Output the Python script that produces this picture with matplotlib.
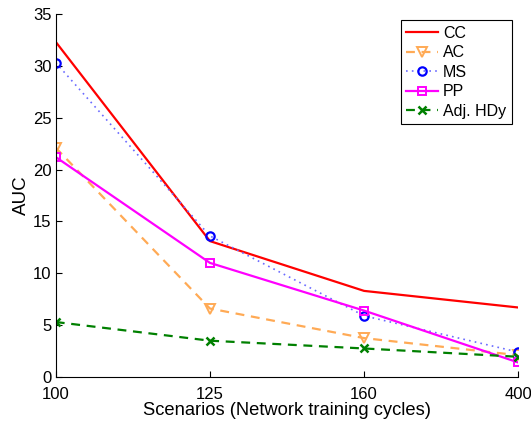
import matplotlib
matplotlib.use("Agg")
import matplotlib.pyplot as plt

plt.rcParams['font.family'] = ['Liberation Sans', 'DejaVu Sans']

scenarios = ["100", "125", "160", "400"]
cc = [32.3, 13.1, 8.3, 6.7]
ac = [22.1, 6.6, 3.75, 2.1]
ms = [30.3, 13.6, 5.9, 2.4]
pp = [21.2, 11.0, 6.4, 1.4]
hdy = [5.3, 3.5, 2.75, 1.95]

x = list(range(len(scenarios)))

fig = plt.figure(figsize=(5.31, 4.21), dpi=100)
ax = fig.add_axes([0.105, 0.1045, 0.871, 0.8625])

ax.plot(x, cc, color="red", lw=1.6, label="CC")
ax.plot(x, ac, color="#ffaa55", lw=1.6, ls=(0, (4, 3)), marker="v", ms=7,
        mfc="none", mew=1.4, label="AC")
ax.plot(x, ms, color="#6a6aff", lw=1.2, ls=(0, (1, 2.5)), marker="o", ms=6,
        mfc="none", mec="blue", mew=1.6, label="MS")
ax.plot(x, pp, color="magenta", lw=1.6, marker="s", ms=5.5, mfc="none",
        mew=1.4, label="PP")
ax.plot(x, hdy, color="green", lw=1.6, ls=(0, (4, 3)), marker="x", ms=6,
        mew=1.8, label="Adj. HDy")

ax.set_xlim(0, 3)
ax.set_ylim(0, 35)
ax.set_xticks(x)
ax.set_xticklabels(scenarios)
ax.set_yticks(range(0, 36, 5))
ax.tick_params(direction="in", labelsize=12, length=4)
ax.tick_params(axis="x", pad=7)
ax.tick_params(axis="y", pad=3)
ax.spines["top"].set_visible(False)
ax.spines["right"].set_visible(False)
ax.set_xlabel("Scenarios (Network training cycles)", fontsize=13.2, labelpad=0)
ax.set_ylabel("AUC", fontsize=13.5, labelpad=2)

leg = ax.legend(loc="upper right", fontsize=11.5, fancybox=False, framealpha=1,
                edgecolor="black", handlelength=2.0, labelspacing=0.28,
                borderaxespad=0.4, handletextpad=0.3, borderpad=0.35)
leg.get_frame().set_linewidth(0.8)

plt.savefig("out.png", dpi=100)
